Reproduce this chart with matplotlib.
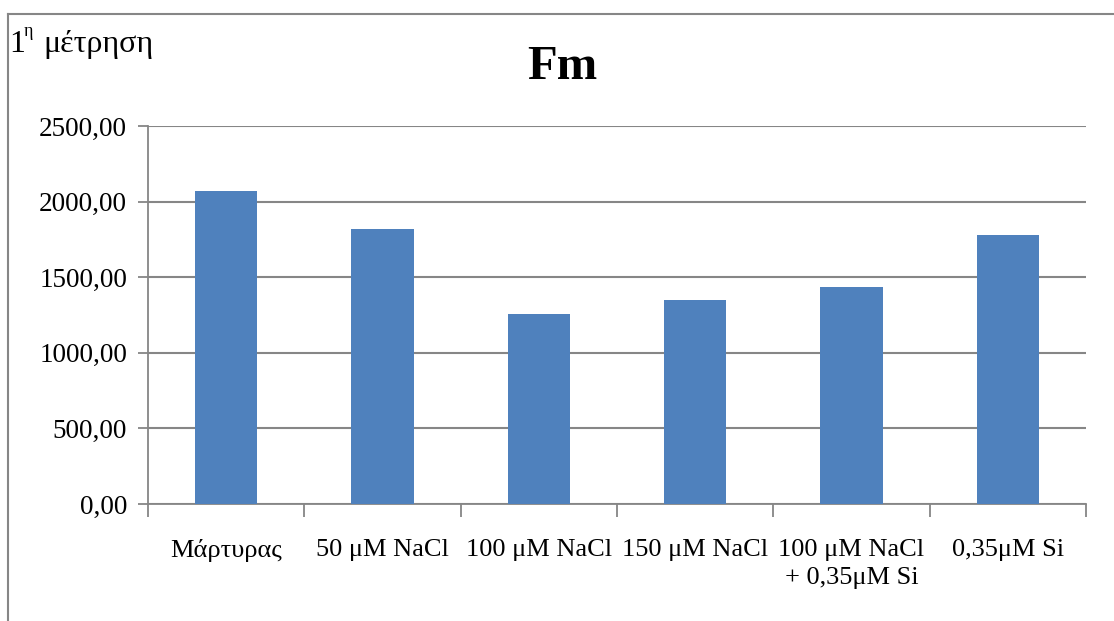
import matplotlib.pyplot as plt
from matplotlib.lines import Line2D

categories = ['Μάρτυρας', '50 μM NaCl', '100 μM NaCl', '150 μM NaCl',
              '100 μM NaCl\n+ 0,35μM Si', '0,35μM Si']
fm_values = [2070, 1818, 1259, 1349, 1432, 1779]
y_ticks = [0, 500, 1000, 1500, 2000, 2500]

plt.rcParams['font.family'] = ['Liberation Serif', 'DejaVu Serif']

W, H = 1114, 621
fig = plt.figure(figsize=(W / 100, H / 100), dpi=100)
ax = fig.add_axes([148 / W, 1 - 504 / H, (1086 - 148) / W, (504 - 126) / H])

grey = '#868686'
x = list(range(len(categories)))
ax.bar(x, fm_values, width=0.4, color='#4F81BD', zorder=3)

ax.set_xlim(-0.5, len(categories) - 0.5)
ax.set_ylim(0, 2500)
ax.set_yticks(y_ticks)
ax.set_yticklabels([f'{v:.2f}'.replace('.', ',') for v in y_ticks], fontsize=19.5)
ax.yaxis.grid(True, color=grey, linewidth=1.5, zorder=0)

# category labels at centres, tick marks at the boundaries
ax.set_xticks([i - 0.5 for i in range(len(categories) + 1)])
ax.set_xticklabels([])
ax.set_xticks(x, minor=True)
ax.set_xticklabels(categories, minor=True, fontsize=19, linespacing=1.35, va='top')
ax.tick_params(axis='x', which='minor', length=0, pad=25)
ax.tick_params(axis='x', which='major', length=9, width=1.3, color=grey)
ax.tick_params(axis='y', length=7, width=1.3, color=grey, pad=8)

for side in ['top', 'right']:
    ax.spines[side].set_visible(False)
for side in ['left', 'bottom']:
    ax.spines[side].set_color(grey)
    ax.spines[side].set_linewidth(1.3)

fig.text(562 / W, 1 - 67 / H, 'Fm', fontsize=35, fontweight='bold',
         ha='center', va='center')

# chart border (partly visible)
fig.add_artist(Line2D([8 / W, 1], [1 - 14 / H, 1 - 14 / H], color=grey, linewidth=1.5))
fig.add_artist(Line2D([8 / W, 8 / W], [0, 1 - 14 / H], color=grey, linewidth=1.5))

# corner note "1η μέτρηση"
fig.text(9 / W, 1 - 52 / H, '1', fontsize=23, ha='left', va='baseline')
fig.text(24 / W, 1 - 36 / H, 'η', fontsize=13, ha='left', va='baseline')
fig.text(43 / W, 1 - 52 / H, 'μέτρηση', fontsize=23, ha='left', va='baseline')

fig.savefig('out.png', dpi=100)
